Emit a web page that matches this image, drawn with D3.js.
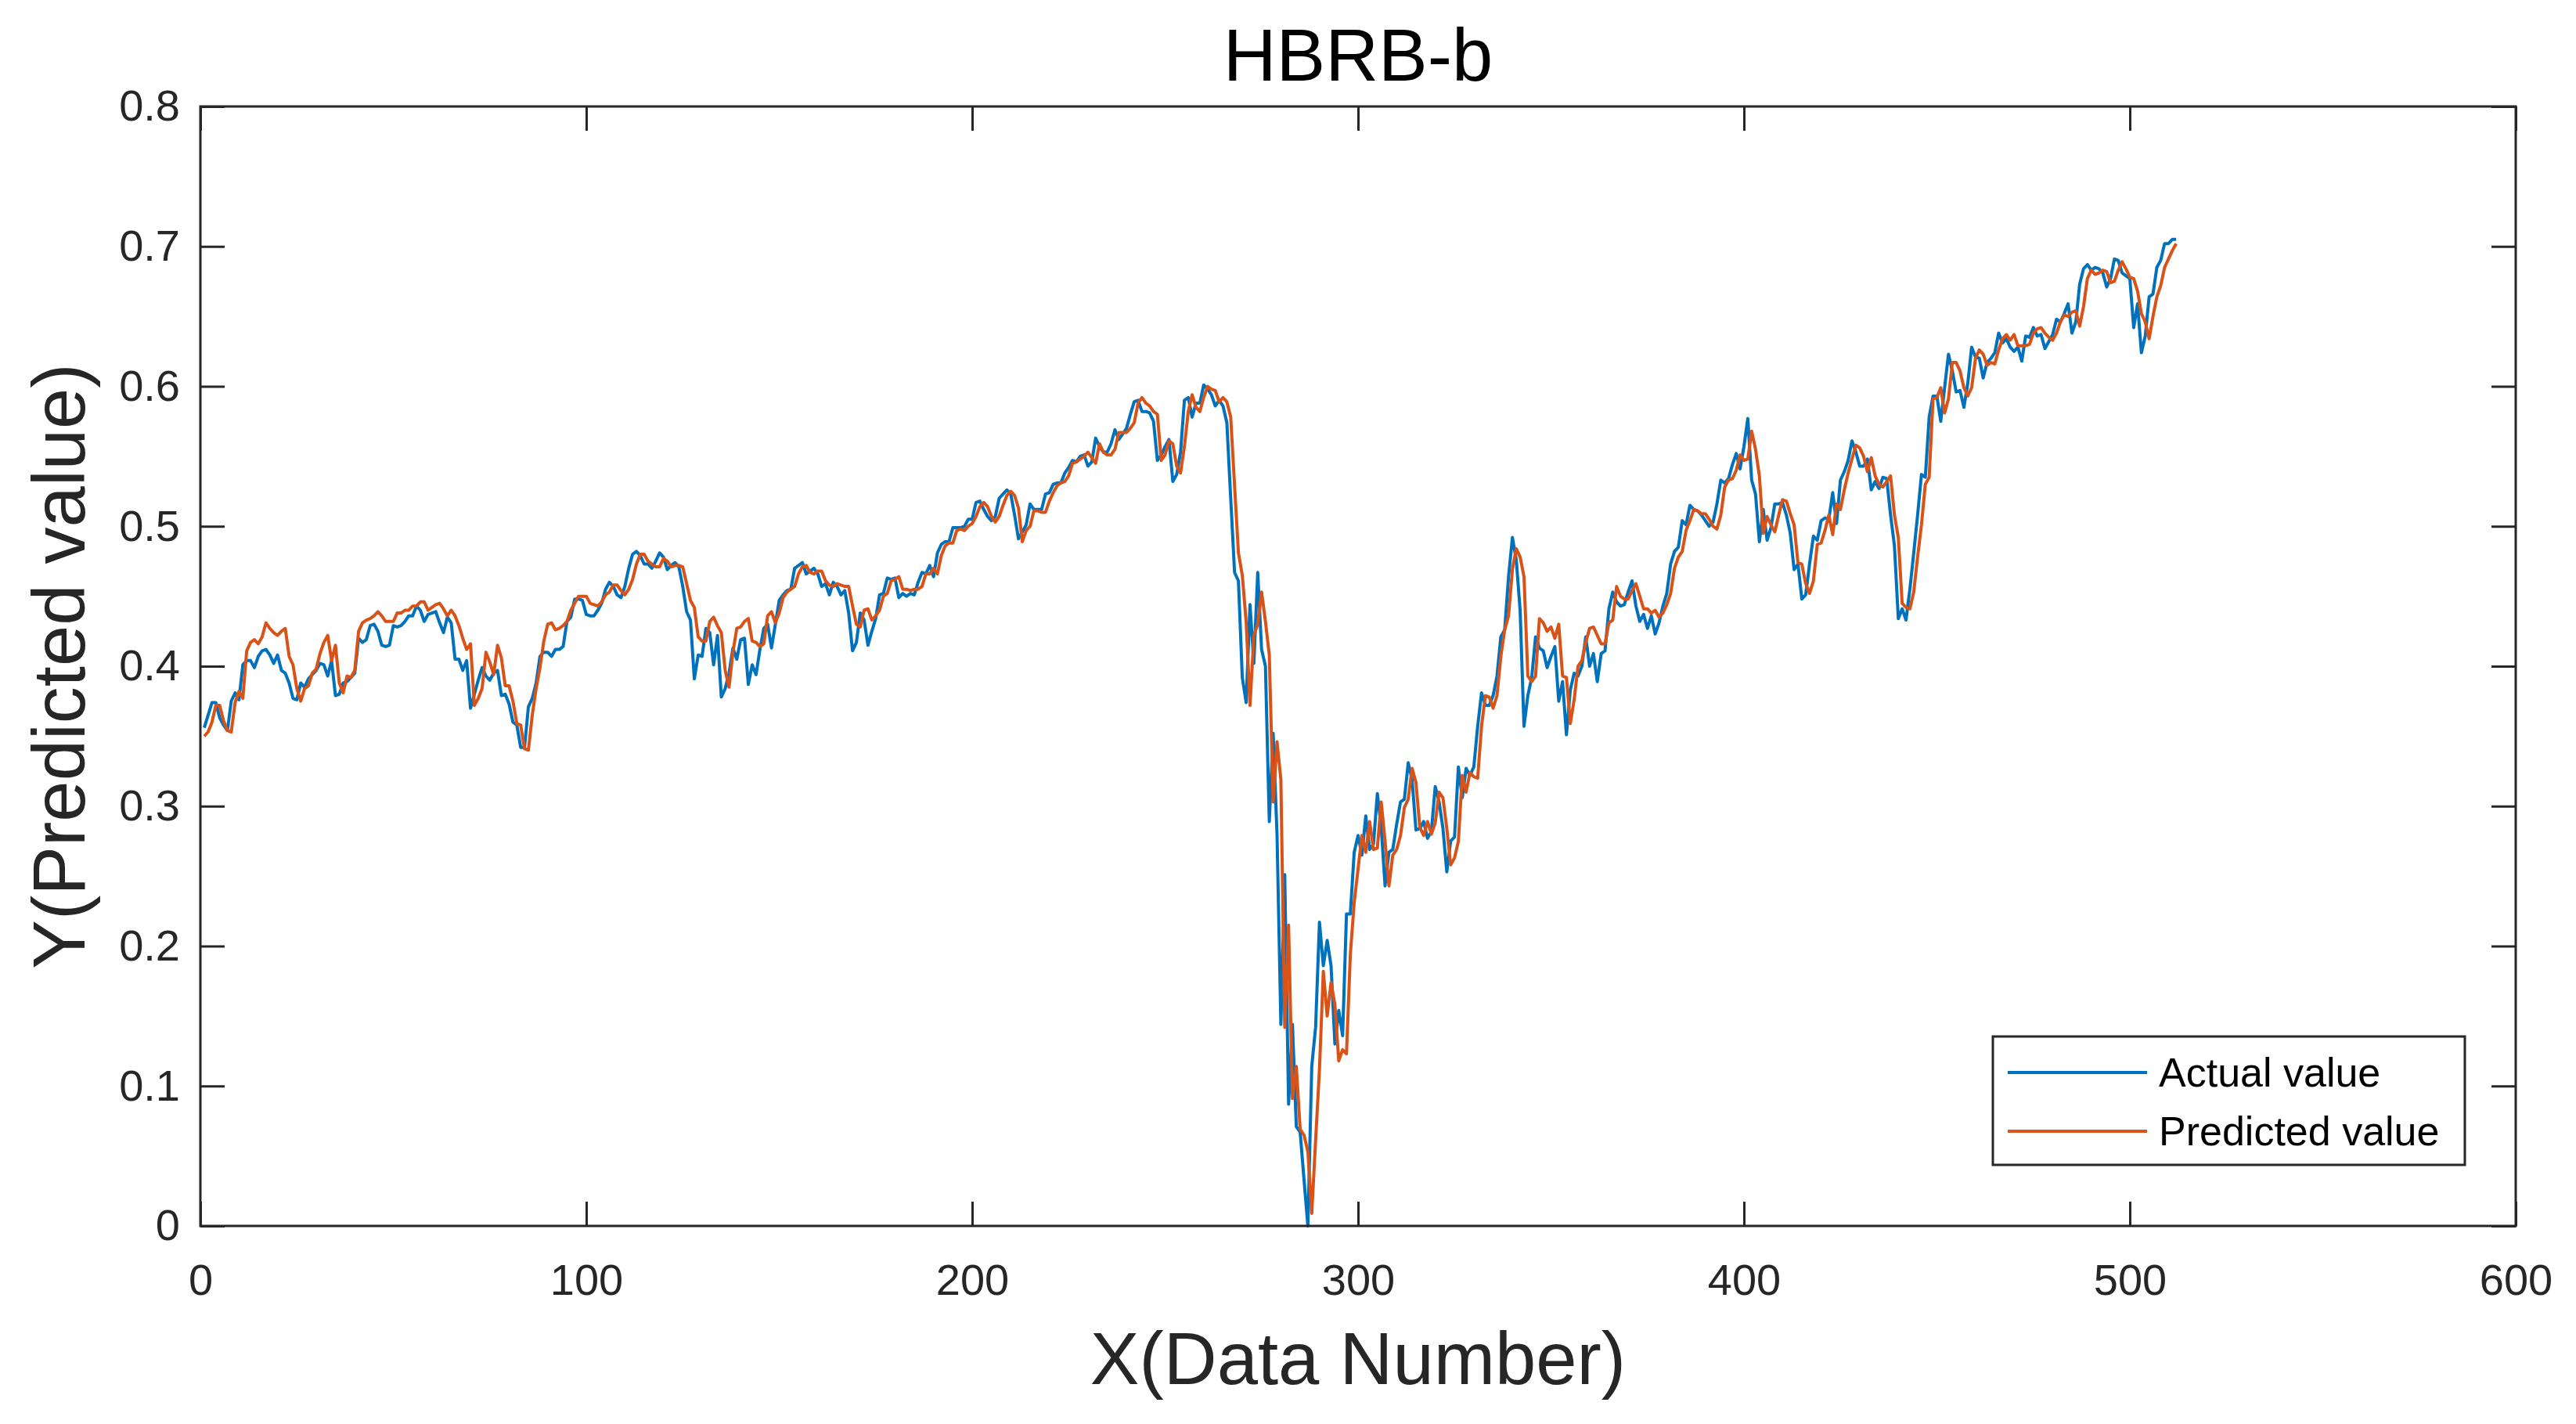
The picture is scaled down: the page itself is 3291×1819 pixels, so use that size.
<!DOCTYPE html>
<html>
<head>
<meta charset="utf-8">
<script src="https://cdn.jsdelivr.net/npm/d3@7"></script>
<style>
  body { margin: 0; background: #fff; }
  svg { display: block; }
</style>
</head>
<body>
<svg id="chart"></svg>
<script>
// values, one per data number (1..512)
var actualValues = [
  0.356,0.365,0.374,0.374,0.363,0.358,0.354,0.375,0.381,0.376,
  0.401,0.404,0.404,0.399,0.407,0.411,0.412,0.408,0.402,0.408,
  0.397,0.395,0.388,0.377,0.376,0.388,0.385,0.391,0.394,0.397,
  0.402,0.401,0.393,0.404,0.379,0.380,0.388,0.389,0.392,0.395,
  0.420,0.417,0.419,0.429,0.430,0.425,0.415,0.414,0.415,0.429,
  0.428,0.429,0.432,0.436,0.436,0.443,0.440,0.432,0.437,0.438,
  0.439,0.431,0.424,0.435,0.431,0.405,0.405,0.397,0.404,0.370,
  0.380,0.390,0.399,0.393,0.390,0.395,0.397,0.379,0.380,0.373,
  0.360,0.358,0.342,0.342,0.371,0.377,0.388,0.407,0.410,0.410,
  0.407,0.412,0.412,0.414,0.432,0.435,0.448,0.448,0.447,0.437,
  0.436,0.436,0.440,0.445,0.455,0.460,0.457,0.451,0.449,0.457,
  0.470,0.480,0.482,0.479,0.473,0.473,0.470,0.475,0.481,0.478,
  0.469,0.472,0.474,0.471,0.457,0.439,0.433,0.391,0.408,0.407,
  0.427,0.424,0.401,0.422,0.378,0.384,0.395,0.413,0.405,0.419,
  0.420,0.387,0.401,0.394,0.412,0.427,0.430,0.413,0.430,0.447,
  0.451,0.454,0.455,0.470,0.472,0.474,0.466,0.468,0.470,0.466,
  0.457,0.459,0.451,0.460,0.457,0.451,0.454,0.438,0.411,0.417,
  0.438,0.433,0.415,0.425,0.434,0.451,0.452,0.463,0.462,0.463,
  0.449,0.452,0.450,0.452,0.451,0.460,0.467,0.466,0.472,0.464,
  0.481,0.487,0.489,0.489,0.499,0.499,0.499,0.500,0.505,0.505,
  0.517,0.518,0.512,0.507,0.504,0.507,0.520,0.523,0.526,0.523,
  0.508,0.491,0.496,0.501,0.516,0.512,0.512,0.512,0.523,0.524,
  0.530,0.531,0.531,0.538,0.542,0.547,0.546,0.550,0.551,0.543,
  0.546,0.563,0.557,0.553,0.553,0.559,0.569,0.562,0.566,0.570,
  0.580,0.589,0.590,0.582,0.582,0.581,0.575,0.547,0.551,0.557,
  0.562,0.532,0.537,0.553,0.590,0.592,0.578,0.588,0.588,0.601,
  0.598,0.594,0.586,0.590,0.586,0.574,0.520,0.467,0.461,0.392,
  0.374,0.444,0.402,0.467,0.412,0.400,0.289,0.352,0.280,0.144,
  0.251,0.087,0.144,0.071,0.067,0.033,0.000,0.114,0.142,0.217,
  0.186,0.204,0.186,0.130,0.154,0.136,0.223,0.223,0.267,0.279,
  0.265,0.293,0.269,0.273,0.309,0.285,0.243,0.267,0.269,0.287,
  0.303,0.305,0.331,0.319,0.283,0.284,0.289,0.277,0.282,0.314,
  0.303,0.284,0.253,0.275,0.278,0.328,0.306,0.327,0.322,0.328,
  0.357,0.381,0.372,0.372,0.379,0.393,0.421,0.426,0.464,0.492,
  0.476,0.440,0.357,0.379,0.392,0.421,0.413,0.411,0.399,0.407,
  0.414,0.375,0.389,0.351,0.383,0.395,0.393,0.400,0.421,0.400,
  0.409,0.389,0.409,0.411,0.441,0.453,0.446,0.443,0.444,0.453,
  0.461,0.443,0.432,0.437,0.427,0.436,0.423,0.431,0.443,0.452,
  0.473,0.482,0.485,0.504,0.501,0.515,0.512,0.511,0.508,0.504,
  0.500,0.503,0.516,0.533,0.531,0.534,0.544,0.552,0.541,0.557,
  0.577,0.533,0.523,0.489,0.512,0.490,0.499,0.516,0.516,0.517,
  0.508,0.495,0.469,0.473,0.448,0.451,0.473,0.493,0.490,0.504,
  0.506,0.505,0.524,0.502,0.533,0.539,0.547,0.561,0.553,0.543,
  0.543,0.548,0.526,0.532,0.527,0.535,0.534,0.508,0.486,0.434,
  0.441,0.433,0.455,0.481,0.508,0.537,0.535,0.578,0.593,0.593,
  0.575,0.599,0.623,0.611,0.596,0.597,0.585,0.602,0.628,0.621,
  0.620,0.606,0.617,0.620,0.624,0.638,0.631,0.634,0.628,0.625,
  0.628,0.618,0.636,0.635,0.642,0.636,0.637,0.627,0.632,0.637,
  0.648,0.646,0.652,0.659,0.638,0.646,0.673,0.684,0.687,0.683,
  0.685,0.684,0.681,0.671,0.677,0.691,0.690,0.681,0.679,0.677,
  0.642,0.659,0.624,0.636,0.664,0.666,0.685,0.690,0.702,0.702,
  0.705,0.705
];

var predictedValues = [
  0.350,0.353,0.360,0.372,0.372,0.361,0.354,0.353,0.374,0.382,
  0.377,0.411,0.417,0.419,0.416,0.421,0.431,0.427,0.424,0.422,
  0.425,0.427,0.407,0.401,0.384,0.375,0.384,0.386,0.395,0.398,
  0.409,0.417,0.422,0.404,0.415,0.388,0.381,0.393,0.392,0.397,
  0.425,0.431,0.433,0.434,0.436,0.439,0.436,0.432,0.432,0.432,
  0.438,0.438,0.440,0.440,0.443,0.443,0.446,0.446,0.440,0.442,
  0.444,0.445,0.441,0.436,0.440,0.436,0.429,0.420,0.412,0.416,
  0.372,0.377,0.384,0.410,0.403,0.394,0.415,0.406,0.386,0.386,
  0.375,0.359,0.358,0.341,0.340,0.365,0.384,0.399,0.418,0.430,
  0.431,0.426,0.427,0.429,0.432,0.440,0.445,0.450,0.450,0.450,
  0.445,0.444,0.443,0.446,0.451,0.453,0.458,0.458,0.454,0.451,
  0.455,0.462,0.473,0.480,0.480,0.475,0.473,0.471,0.471,0.477,
  0.475,0.471,0.472,0.472,0.471,0.459,0.447,0.442,0.421,0.418,
  0.418,0.432,0.435,0.429,0.424,0.397,0.385,0.410,0.427,0.428,
  0.432,0.434,0.418,0.417,0.414,0.416,0.436,0.439,0.431,0.438,
  0.449,0.453,0.455,0.457,0.466,0.471,0.472,0.467,0.466,0.468,
  0.468,0.461,0.458,0.457,0.459,0.458,0.457,0.457,0.443,0.430,
  0.428,0.440,0.441,0.433,0.436,0.440,0.450,0.452,0.461,0.462,
  0.464,0.455,0.455,0.454,0.455,0.455,0.457,0.466,0.466,0.470,
  0.466,0.479,0.486,0.488,0.488,0.497,0.498,0.497,0.500,0.502,
  0.507,0.514,0.517,0.514,0.507,0.503,0.507,0.515,0.522,0.525,
  0.522,0.513,0.489,0.497,0.500,0.511,0.511,0.510,0.510,0.518,
  0.524,0.529,0.531,0.532,0.536,0.545,0.546,0.548,0.550,0.553,
  0.549,0.545,0.559,0.553,0.551,0.551,0.555,0.567,0.567,0.567,
  0.570,0.574,0.588,0.592,0.588,0.586,0.582,0.580,0.547,0.551,
  0.561,0.559,0.543,0.538,0.557,0.582,0.594,0.585,0.582,0.592,
  0.600,0.598,0.597,0.589,0.592,0.589,0.578,0.529,0.481,0.465,
  0.432,0.372,0.422,0.430,0.453,0.432,0.408,0.303,0.346,0.319,
  0.142,0.215,0.091,0.114,0.069,0.065,0.053,0.009,0.061,0.112,
  0.182,0.150,0.174,0.158,0.118,0.126,0.123,0.194,0.231,0.255,
  0.279,0.267,0.289,0.269,0.270,0.303,0.275,0.243,0.265,0.269,
  0.279,0.299,0.305,0.327,0.317,0.285,0.279,0.289,0.280,0.288,
  0.310,0.306,0.284,0.258,0.263,0.275,0.322,0.310,0.324,0.321,
  0.320,0.357,0.379,0.378,0.370,0.379,0.407,0.426,0.436,0.469,
  0.484,0.478,0.464,0.393,0.389,0.393,0.434,0.431,0.425,0.428,
  0.420,0.430,0.393,0.392,0.359,0.376,0.400,0.404,0.417,0.427,
  0.428,0.422,0.416,0.416,0.431,0.433,0.457,0.450,0.448,0.448,
  0.454,0.459,0.450,0.441,0.441,0.438,0.440,0.435,0.438,0.444,
  0.452,0.470,0.478,0.482,0.497,0.504,0.512,0.511,0.509,0.509,
  0.505,0.500,0.498,0.508,0.528,0.533,0.534,0.540,0.551,0.547,
  0.548,0.568,0.555,0.536,0.495,0.507,0.501,0.496,0.508,0.519,
  0.518,0.509,0.501,0.474,0.473,0.459,0.452,0.461,0.487,0.488,
  0.497,0.508,0.494,0.516,0.512,0.526,0.538,0.548,0.558,0.556,
  0.550,0.539,0.549,0.536,0.530,0.528,0.532,0.536,0.508,0.492,
  0.445,0.442,0.441,0.453,0.478,0.501,0.530,0.535,0.591,0.592,
  0.599,0.581,0.591,0.617,0.617,0.611,0.599,0.593,0.599,0.620,
  0.626,0.623,0.615,0.617,0.616,0.626,0.634,0.637,0.633,0.637,
  0.629,0.629,0.629,0.630,0.638,0.641,0.642,0.638,0.635,0.633,
  0.638,0.646,0.651,0.650,0.653,0.654,0.643,0.657,0.677,0.683,
  0.680,0.681,0.683,0.682,0.674,0.675,0.683,0.689,0.684,0.678,
  0.677,0.668,0.652,0.646,0.634,0.650,0.664,0.672,0.685,0.691,
  0.697,0.702
];

var xTicks = [0, 100, 200, 300, 400, 500, 600];
var yTicks = [0, 0.1, 0.2, 0.3, 0.4, 0.5, 0.6, 0.7, 0.8];
var seriesNames = ["Actual value", "Predicted value"];
var seriesColors = ["#0072BD", "#D95319"];

var makeTranslateString = function(x, y)
{
    return "translate(" + x + "," + y + ")";
}

var initGraph = function()
{
    var screen = {width: 3291, height: 1819};
    var margins = {left: 256, right: 77, top: 136, bottom: 253};
    var graph = {
        width: screen.width - margins.left - margins.right,
        height: screen.height - margins.top - margins.bottom
    };
    var font = "'Liberation Sans', Arial, Helvetica, sans-serif";
    var ink = "#262626";
    var tickLen = 31;

    var svg = d3.select("#chart")
        .attr("width", screen.width)
        .attr("height", screen.height)
        .style("font-family", font);

    var xScale = d3.scaleLinear().domain([0, 600]).range([0, graph.width]);
    var yScale = d3.scaleLinear().domain([0, 0.8]).range([graph.height, 0]);

    var target = svg.append("g")
        .attr("transform", makeTranslateString(margins.left, margins.top));

    // data lines
    var rows = d3.range(actualValues.length).map(function(i) {
        return {n: i + 1, actual: actualValues[i], predicted: predictedValues[i]};
    });

    var lineFor = function(key) {
        return d3.line()
            .x(function(d) { return xScale(d.n); })
            .y(function(d) { return yScale(d[key]); });
    };

    target.append("path")
        .datum(rows)
        .attr("d", lineFor("actual"))
        .attr("fill", "none")
        .attr("stroke", seriesColors[0])
        .attr("stroke-width", 4)
        .attr("stroke-linejoin", "round");

    target.append("path")
        .datum(rows)
        .attr("d", lineFor("predicted"))
        .attr("fill", "none")
        .attr("stroke", seriesColors[1])
        .attr("stroke-width", 4)
        .attr("stroke-linejoin", "round");

    // axes: labels on bottom/left, inward ticks on all four sides
    var styleAxis = function(g) {
        g.select(".domain").remove();
        g.selectAll(".tick line").attr("stroke", ink).attr("stroke-width", 3);
        g.selectAll(".tick text")
            .attr("fill", ink)
            .style("font-size", "56px")
            .style("font-family", font);
    };

    target.append("g")
        .attr("transform", makeTranslateString(0, graph.height))
        .call(d3.axisBottom(xScale).tickValues(xTicks).tickFormat(d3.format("d"))
            .tickSizeInner(-tickLen).tickSizeOuter(0).tickPadding(48))
        .call(styleAxis);

    target.append("g")
        .call(d3.axisTop(xScale).tickValues(xTicks).tickFormat("")
            .tickSizeInner(-tickLen).tickSizeOuter(0))
        .call(styleAxis);

    target.append("g")
        .call(d3.axisLeft(yScale).tickValues(yTicks).tickFormat(function(d) {
                return d === 0 ? "0" : d3.format(".1f")(d);
            })
            .tickSizeInner(-tickLen).tickSizeOuter(0).tickPadding(26))
        .call(styleAxis);

    target.append("g")
        .attr("transform", makeTranslateString(graph.width, 0))
        .call(d3.axisRight(yScale).tickValues(yTicks).tickFormat("")
            .tickSizeInner(-tickLen).tickSizeOuter(0))
        .call(styleAxis);

    // box
    target.append("rect")
        .attr("x", 0).attr("y", 0)
        .attr("width", graph.width).attr("height", graph.height)
        .attr("fill", "none")
        .attr("stroke", ink)
        .attr("stroke-width", 3);

    // title and axis labels
    svg.append("text")
        .attr("x", margins.left + graph.width / 2)
        .attr("y", 103)
        .attr("text-anchor", "middle")
        .attr("fill", "#000")
        .style("font-size", "94px")
        .text("HBRB-b");

    svg.append("text")
        .attr("x", margins.left + graph.width / 2)
        .attr("y", 1768)
        .attr("text-anchor", "middle")
        .attr("fill", ink)
        .style("font-size", "94px")
        .text("X(Data Number)");

    svg.append("text")
        .attr("transform", makeTranslateString(108, margins.top + graph.height / 2) + " rotate(-90)")
        .attr("text-anchor", "middle")
        .attr("fill", ink)
        .style("font-size", "94px")
        .text("Y(Predicted value)");

    // legend
    var legend = svg.append("g")
        .attr("transform", makeTranslateString(2546, 1324));

    legend.append("rect")
        .attr("width", 603)
        .attr("height", 164)
        .attr("fill", "#fff")
        .attr("stroke", ink)
        .attr("stroke-width", 3);

    var entry = legend.selectAll("g.entry")
        .data(seriesNames)
        .enter()
        .append("g")
        .attr("class", "entry")
        .attr("transform", function(d, i) { return makeTranslateString(0, 46 + i * 75); });

    entry.append("line")
        .attr("x1", 19).attr("x2", 197)
        .attr("y1", 0).attr("y2", 0)
        .attr("stroke", function(d, i) { return seriesColors[i]; })
        .attr("stroke-width", 4);

    entry.append("text")
        .attr("x", 212)
        .attr("y", 0)
        .attr("dy", "0.35em")
        .attr("fill", "#000")
        .style("font-size", "52px")
        .text(function(d) { return d; });
}

initGraph();
</script>
</body>
</html>
